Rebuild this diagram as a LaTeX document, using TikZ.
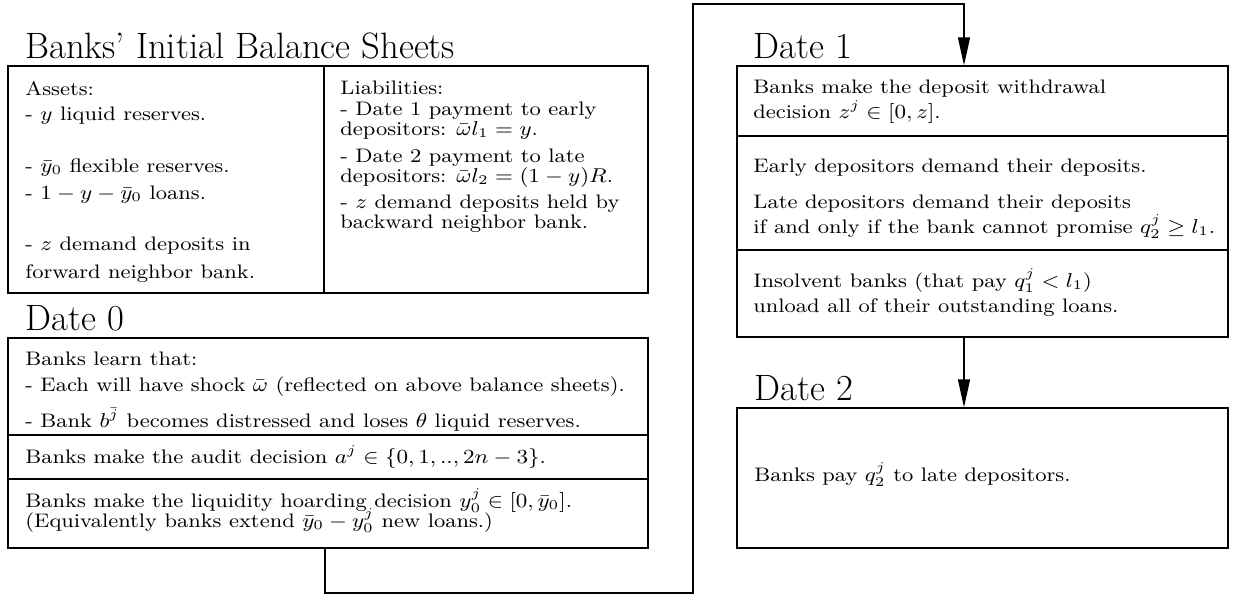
\documentclass[tikz,border=0pt]{standalone}
\usepackage{amsmath,amssymb,graphicx}
\usetikzlibrary{fit,arrows.meta}
\newcommand\wdtxt[1]{\scalebox{1.12}[1]{#1}}
\tikzset{
  txt/.style={anchor=base west, inner sep=0pt, font=\fontsize{8.8}{10.5}\selectfont},
  ttl/.style={anchor=base west, inner sep=0pt, font=\fontsize{16.5}{20}\selectfont},
  box/.style={draw, line width=0.6pt, inner sep=0pt},
  arr/.style={line width=0.6pt, -{Triangle[length=12.6pt,width=5.4pt]}}
}
\begin{document}
\begin{tikzpicture}[x=0.45pt,y=-0.45pt]
\useasboundingbox (0,0) rectangle (1236,596);
% ---------- boxes ----------
\node[box, fit={(8,66)(324,293)}] (assets) {};
\node[box, fit={(324,66)(648,293)}] (liab) {};
\node[box, fit={(8,338)(648,435)}] (d0a) {};
\node[box, fit={(8,435)(648,479)}] (d0b) {};
\node[box, fit={(8,479)(648,548)}] (d0c) {};
\node[box, fit={(737,66)(1228,136)}] (d1a) {};
\node[box, fit={(737,136)(1228,250)}] (d1b) {};
\node[box, fit={(737,250)(1228,337)}] (d1c) {};
\node[box, fit={(737,408)(1228,548)}] (d2) {};
% ---------- titles ----------
\node[ttl] (tbal) at (25,58) {Banks' Initial Balance Sheets};
\node[ttl] (t0) at (25,330) {Date 0};
\node[ttl] (t1) at (753,58) {Date 1};
\node[ttl] (t2) at (754,400) {Date 2};
% ---------- assets ----------
\node[txt] (a1) at (25,95) {\wdtxt{Assets:}};
\node[txt] (a2) at (25,120) {\wdtxt{- $y$ liquid reserves.}};
\node[txt] (a3) at (25,172) {\wdtxt{- $\bar{y}_0$ flexible reserves.}};
\node[txt] (a4) at (25,199) {\wdtxt{- $1-y-\bar{y}_0$ loans.}};
\node[txt] (a5) at (25,250) {\wdtxt{- $z$ demand deposits in}};
\node[txt] (a6) at (25,278) {\wdtxt{forward neighbor bank.}};
% ---------- liabilities ----------
\node[txt] (l1) at (340,94) {\wdtxt{Liabilities:}};
\node[txt] (l2) at (340,115) {\wdtxt{- Date 1 payment to early}};
\node[txt] (l3) at (340,135) {\wdtxt{depositors: $\bar{\omega}l_1=y$.}};
\node[txt] (l4) at (340,162) {\wdtxt{- Date 2 payment to late}};
\node[txt] (l5) at (340,182) {\wdtxt{depositors: $\bar{\omega}l_2=(1-y)R$.}};
\node[txt] (l6) at (340,208) {\wdtxt{- $z$ demand deposits held by}};
\node[txt] (l7) at (340,228) {\wdtxt{backward neighbor bank.}};
% ---------- date 0 ----------
\node[txt] (b1) at (25,365) {\wdtxt{Banks learn that:}};
\node[txt] (b2) at (25,391) {\wdtxt{- Each will have shock $\bar{\omega}$ (reflected on above balance sheets).}};
\node[txt] (b3) at (25,427) {\wdtxt{- Bank $b^{\bar{j}}$ becomes distressed and loses $\theta$ liquid reserves.}};
\node[txt] (b4) at (25,463) {\wdtxt{Banks make the audit decision $a^j\in\{0,1,..,2n-3\}$.}};
\node[txt] (b5) at (25,507) {\wdtxt{Banks make the liquidity hoarding decision $y_0^j\in[0,\bar{y}_0]$.}};
\node[txt] (b6) at (25,527) {\wdtxt{(Equivalently banks extend $\bar{y}_0-y_0^j$ new loans.)}};
% ---------- date 1 ----------
\node[txt] (c1) at (753,93) {\wdtxt{Banks make the deposit withdrawal}};
\node[txt] (c2) at (753,118) {\wdtxt{decision $z^j\in[0,z]$.}};
\node[txt] (c3) at (753,172) {\wdtxt{Early depositors demand their deposits.}};
\node[txt] (c4) at (753,208) {\wdtxt{Late depositors demand their deposits}};
\node[txt] (c5) at (753,233) {\wdtxt{if and only if the bank cannot promise $q_2^j\geq l_1$.}};
\node[txt] (c6) at (753,287) {\wdtxt{Insolvent banks (that pay $q_1^j<l_1$)}};
\node[txt] (c7) at (753,312) {\wdtxt{unload all of their outstanding loans.}};
% ---------- date 2 ----------
\node[txt] (e1) at (754,481) {\wdtxt{Banks pay $q_2^j$ to late depositors.}};
% ---------- connectors ----------
\coordinate (k1) at (325,593);
\coordinate (k2) at (693,593);
\coordinate (k3) at (693,4);
\coordinate (k4) at (964,4);
\draw[arr] (d0c.south -| k1) -- (k1) -- (k2) -- (k3) -- (k4) -- (k4 |- d1a.north);
\draw[arr] (d1c.south -| k4) -- (d2.north -| k4);
\end{tikzpicture}
\end{document}
